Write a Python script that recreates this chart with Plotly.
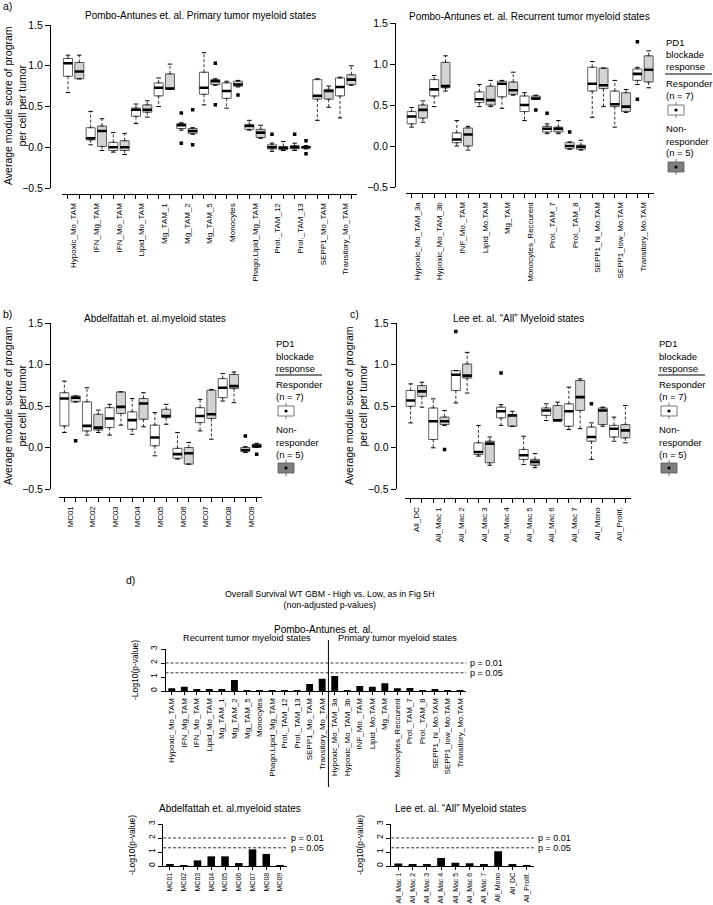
import math
import plotly.graph_objects as go

W, H = 713, 905
FONT = "Liberation Sans, Arial, sans-serif"

# ---------------- panel a (left): Pombo-Antunes primary tumor ----------------
primary_states = ["Hypoxic_Mo_TAM", "IFN_Mg_TAM", "IFN_Mo_TAM", "Lipid_Mo_TAM",
                  "Mg_TAM_1", "Mg_TAM_2", "Mg_TAM_5", "Monocytes",
                  "Phago.Lipid_Mg_TAM", "Prol._TAM_12", "Prol._TAM_13",
                  "SEPP1_Mo_TAM", "Transitory_Mo_TAM"]
# (lower whisker, q1, median, q3, upper whisker)
primary_resp = [(0.67, 0.87, 1.03, 1.09, 1.13), (0.03, 0.09, 0.11, 0.24, 0.44),
                (-0.06, -0.04, 0.00, 0.06, 0.18), (0.29, 0.38, 0.46, 0.48, 0.53),
                (0.50, 0.63, 0.73, 0.79, 0.85), (0.21, 0.23, 0.27, 0.29, 0.30),
                (0.52, 0.65, 0.73, 0.92, 1.16), (0.48, 0.60, 0.69, 0.79, 0.81),
                (0.21, 0.22, 0.26, 0.28, 0.33), (-0.05, -0.02, 0.00, 0.03, 0.05),
                (-0.04, -0.02, 0.00, 0.02, 0.05), (0.33, 0.59, 0.63, 0.83, 0.84),
                (0.36, 0.63, 0.74, 0.85, 0.86)]
primary_nonresp = [(0.84, 0.84, 0.93, 1.04, 1.13), (-0.04, 0.01, 0.20, 0.26, 0.35),
                   (-0.09, -0.04, 0.00, 0.08, 0.17), (0.37, 0.43, 0.46, 0.52, 0.57),
                   (0.71, 0.71, 0.72, 0.90, 1.02), (0.16, 0.17, 0.20, 0.23, 0.24),
                   (0.76, 0.77, 0.81, 0.83, 0.84), (0.74, 0.75, 0.77, 0.81, 0.82),
                   (0.11, 0.12, 0.18, 0.22, 0.27), (-0.04, -0.03, -0.01, 0.01, 0.07),
                   (-0.02, -0.01, 0.00, 0.01, 0.02), (0.49, 0.59, 0.69, 0.71, 0.75),
                   (0.76, 0.77, 0.83, 0.89, 1.00)]
primary_resp_out = [("Mg_TAM_2", 0.42), ("Mg_TAM_2", 0.05),
                    ("Prol._TAM_12", 0.16), ("Prol._TAM_13", 0.16)]
primary_nonresp_out = [("Mg_TAM_2", 0.46), ("Mg_TAM_2", 0.03), ("Mg_TAM_5", 1.03),
                       ("Mg_TAM_5", 0.52), ("Monocytes", 0.64),
                       ("Prol._TAM_13", 0.08), ("Prol._TAM_13", -0.08)]

# ---------------- panel a (right): Pombo-Antunes recurrent tumor ----------------
recurrent_states = ["Hypoxic_Mo_TAM_3a", "Hypoxic_Mo_TAM_3b", "INF_Mo._TAM",
                    "Lipid_Mo.TAM", "Mg_TAM", "Monocytes_Reccurent", "Prol._TAM_7",
                    "Prol._TAM_8", "SEPP1_hi_Mo.TAM", "SEPP1_low_Mo.TAM",
                    "Transitory_Mo.TAM"]
recurrent_resp = [(0.23, 0.27, 0.36, 0.42, 0.47), (0.48, 0.61, 0.69, 0.81, 0.86),
                  (0.00, 0.04, 0.08, 0.16, 0.31), (0.48, 0.53, 0.57, 0.66, 0.75),
                  (0.46, 0.60, 0.76, 0.79, 0.80), (0.31, 0.42, 0.50, 0.61, 0.65),
                  (0.15, 0.17, 0.21, 0.24, 0.27), (-0.04, -0.03, 0.00, 0.04, 0.05),
                  (0.35, 0.67, 0.76, 0.96, 1.03), (0.23, 0.48, 0.51, 0.67, 0.80),
                  (0.75, 0.80, 0.88, 0.94, 0.96)]
recurrent_nonresp = [(0.29, 0.34, 0.44, 0.50, 0.55), (0.67, 0.71, 0.73, 1.02, 1.10),
                     (-0.05, 0.00, 0.14, 0.22, 0.24), (0.48, 0.50, 0.56, 0.73, 0.80),
                     (0.62, 0.63, 0.68, 0.78, 0.90), (0.57, 0.57, 0.58, 0.61, 0.62),
                     (0.15, 0.17, 0.21, 0.23, 0.31), (-0.05, -0.04, -0.01, 0.01, 0.07),
                     (0.48, 0.70, 0.74, 0.95, 0.95), (0.41, 0.42, 0.48, 0.65, 0.69),
                     (0.71, 0.78, 0.93, 1.10, 1.16)]
recurrent_resp_out = [("Prol._TAM_7", 0.40), ("Prol._TAM_8", 0.17),
                      ("Transitory_Mo.TAM", 1.27), ("Transitory_Mo.TAM", 0.57)]
recurrent_nonresp_out = [("Monocytes_Reccurent", 0.44)]

# ---------------- panel b: Abdelfattah ----------------
abdel_states = ["MC01", "MC02", "MC03", "MC04", "MC05", "MC06", "MC07", "MC08", "MC09"]
abdel_resp = [(0.18, 0.26, 0.59, 0.66, 0.80), (0.15, 0.20, 0.26, 0.55, 0.72),
              (0.15, 0.24, 0.35, 0.48, 0.52), (0.16, 0.22, 0.33, 0.43, 0.59),
              (-0.10, 0.02, 0.12, 0.27, 0.42), (-0.14, -0.13, -0.08, -0.01, 0.18),
              (0.20, 0.30, 0.38, 0.48, 0.58), (0.56, 0.60, 0.72, 0.83, 0.89),
              (-0.06, -0.05, -0.03, 0.00, 0.01)]
abdel_nonresp = [(0.55, 0.55, 0.60, 0.62, 0.62), (0.18, 0.21, 0.24, 0.40, 0.45),
                 (0.27, 0.41, 0.49, 0.67, 0.67), (0.25, 0.34, 0.53, 0.59, 0.66),
                 (0.28, 0.36, 0.38, 0.46, 0.52), (-0.20, -0.20, -0.07, 0.00, 0.06),
                 (0.10, 0.35, 0.40, 0.69, 0.70), (0.54, 0.71, 0.74, 0.88, 0.91),
                 (0.00, 0.00, 0.02, 0.04, 0.05)]
abdel_resp_out = [("MC09", 0.14)]
abdel_nonresp_out = [("MC01", 0.08), ("MC09", -0.08)]

# ---------------- panel c: Lee ----------------
lee_states = ["All_DC", "All_Mac 1", "All_Mac 2", "All_Mac 3", "All_Mac 4",
              "All_Mac 5", "All_Mac 6", "All_Mac 7", "All_Mono", "All_Prolif."]
lee_resp = [(0.30, 0.50, 0.57, 0.69, 0.77), (0.00, 0.10, 0.32, 0.48, 0.59),
            (0.54, 0.69, 0.88, 0.93, 0.93), (-0.10, -0.08, -0.05, 0.06, 0.27),
            (0.27, 0.36, 0.44, 0.49, 0.52), (-0.20, -0.14, -0.09, -0.02, 0.14),
            (0.33, 0.39, 0.45, 0.48, 0.53), (0.22, 0.26, 0.44, 0.53, 0.73),
            (-0.14, 0.08, 0.13, 0.25, 0.30), (0.08, 0.13, 0.23, 0.27, 0.37)]
lee_nonresp = [(0.49, 0.62, 0.68, 0.75, 0.79), (0.27, 0.28, 0.32, 0.37, 0.45),
               (0.66, 0.84, 0.87, 1.01, 1.15), (-0.21, -0.18, 0.05, 0.08, 0.13),
               (0.26, 0.26, 0.39, 0.40, 0.44), (-0.24, -0.21, -0.17, -0.14, -0.07),
               (0.33, 0.33, 0.33, 0.51, 0.55), (0.23, 0.45, 0.61, 0.81, 0.83),
               (0.26, 0.28, 0.45, 0.48, 0.49), (0.06, 0.12, 0.21, 0.28, 0.51)]
lee_resp_out = [("All_Mac 2", 1.40), ("All_Mac 4", 0.90), ("All_Mono", 0.53)]
lee_nonresp_out = [("All_Mac 1", -0.02)]

# ---------------- panel d: survival -log10(p) ----------------
pombo_os_labels = primary_states + recurrent_states
pombo_os = [0.19, 0.31, 0.14, 0.14, 0.14, 0.79, 0.07, 0.05, 0.02, 0.07, 0.01, 0.50,
            0.88, 1.07, 0.01, 0.36, 0.31, 0.55, 0.19, 0.21, 0.02, 0.12, 0.03, 0.01]
abdel_os = [0.12, 0.07, 0.40, 0.69, 0.69, 0.21, 1.19, 0.86, 0.07]
lee_os_labels = ["All_Mac 1", "All_Mac 2", "All_Mac 3", "All_Mac 4", "All_Mac 5",
                 "All_Mac 6", "All_Mac 7", "All_Mono", "All_DC", "All_Prolif."]
lee_os = [0.17, 0.10, 0.12, 0.57, 0.24, 0.19, 0.14, 1.05, 0.12, 0.05]
p_cutoffs = [0.01, 0.05]

fig = go.Figure()


def xd(a, b):
    return [a / W, b / W]


def yd(top, bottom):
    return [1 - bottom / H, 1 - top / H]


def names(k):
    s = "" if k == 1 else str(k)
    return "x" + s, "y" + s, "xaxis" + s, "yaxis" + s


def note(text, x, y, size=10, xanchor="center", **kw):
    fig.add_annotation(text=text, x=x / W, y=1 - y / H, xref="paper", yref="paper",
                       showarrow=False, xanchor=xanchor, yanchor="middle",
                       font=dict(size=size, color="black", family=FONT), **kw)


def box_panel(k, states, resp, nonresp, resp_out, nonresp_out, xdom, ydom, xline, yline):
    xa, ya, xn, yn = names(k)
    groups = [(resp, resp_out, 1, "white"), (nonresp, nonresp_out, 2, "#d3d3d3")]
    for stats, outs, off, fill in groups:
        pos = [2 * i + off for i in range(len(states))]
        lo, q1, med, q3, hi = (list(v) for v in zip(*stats))
        wx, wy, cx, cy, mx, my = [], [], [], [], [], []
        for p, a, b, m, c, d in zip(pos, lo, q1, med, q3, hi):
            wx += [p, p, None, p, p, None]
            wy += [c, d, None, b, a, None]
            cx += [p - 0.2, p + 0.2, None, p - 0.2, p + 0.2, None]
            cy += [d, d, None, a, a, None]
            mx += [p - 0.4, p + 0.4, None]
            my += [m, m, None]
        fig.add_trace(go.Scatter(x=wx, y=wy, mode="lines", xaxis=xa, yaxis=ya,
                                 line=dict(color="black", width=0.8, dash="3px,2px")))
        fig.add_trace(go.Scatter(x=cx, y=cy, mode="lines", xaxis=xa, yaxis=ya,
                                 line=dict(color="black", width=1)))
        fig.add_trace(go.Box(x=pos, q1=q1, median=med, q3=q3, lowerfence=q1,
                             upperfence=q3, width=0.8, orientation="v",
                             fillcolor=fill, line=dict(color="#3c3c3c", width=0.8),
                             xaxis=xa, yaxis=ya))
        fig.add_trace(go.Scatter(x=mx, y=my, mode="lines", xaxis=xa, yaxis=ya,
                                 line=dict(color="black", width=2.6)))
        fig.add_trace(go.Scatter(x=[2 * states.index(s) + off for s, v in outs],
                                 y=[v for s, v in outs], mode="markers",
                                 xaxis=xa, yaxis=ya,
                                 marker=dict(symbol="square", size=3.5, color="black")))
    n = 2 * len(states)
    fig.update_layout({
        xn: dict(domain=xdom, range=[0.5, n + 0.5], anchor="free",
                 position=1 - xline / H, showline=True, linecolor="black",
                 linewidth=1, tickmode="array",
                 tickvals=[2 * i + 1.5 for i in range(len(states))],
                 ticktext=states, tickangle=-90, ticks="outside", ticklen=5,
                 tickcolor="rgba(0,0,0,0)",
                 minor=dict(tickmode="array", tickvals=list(range(1, n + 1)),
                            ticks="outside", ticklen=4, tickcolor="black",
                            showgrid=False),
                 showgrid=False, zeroline=False, tickfont=dict(size=8)),
        yn: dict(domain=ydom, range=[-0.5, 1.5], anchor="free",
                 position=yline / W, showline=True, linecolor="black", linewidth=1,
                 tickmode="array", tickvals=[-0.5, 0, 0.5, 1.0, 1.5],
                 tickformat=".1f", ticks="outside", ticklen=5, tickcolor="black",
                 showgrid=False, zeroline=False, tickfont=dict(size=10.5)),
    })


def bar_panel(k, labels, values, xdom, ydom, label_size):
    xa, ya, xn, yn = names(k)
    fig.add_trace(go.Bar(x=list(range(1, len(labels) + 1)), y=values, width=0.55,
                         marker=dict(color="black", line=dict(width=0)),
                         xaxis=xa, yaxis=ya))
    fig.update_layout({
        xn: dict(domain=xdom, range=[0.5, len(labels) + 0.5], anchor=ya,
                 showline=True, linecolor="black", linewidth=1, tickmode="array",
                 tickvals=list(range(1, len(labels) + 1)), ticktext=labels,
                 tickangle=-90, ticks="outside", ticklen=3, tickcolor="black",
                 showgrid=False, zeroline=False, tickfont=dict(size=label_size)),
        yn: dict(domain=ydom, range=[0, 3], anchor=xa, showline=True,
                 linecolor="black", linewidth=1, tickvals=[0, 1, 2, 3],
                 tickangle=-90, ticks="outside", ticklen=4, tickcolor="black",
                 showgrid=False, zeroline=False, tickfont=dict(size=8.5),
                 title=dict(text="-Log10(p-value)", font=dict(size=8.5), standoff=9)),
    })
    for p in p_cutoffs:
        lvl = -math.log10(p)
        fig.add_shape(type="line", xref=xa + " domain", x0=0, x1=1, yref=ya,
                      y0=lvl, y1=lvl, line=dict(color="black", width=0.8,
                                                dash="3px,2px"))
        fig.add_annotation(text=f"p = {p}", xref=xa + " domain", x=1, yref=ya,
                           y=lvl, xanchor="left", yanchor="middle", xshift=3,
                           showarrow=False, borderpad=0,
                           font=dict(size=9, color="black"))


def legend(x0, ytop):
    lines = [("PD1", 0), ("blockade", 13), ("response", 25), ("Responder", 41),
             ("(n = 7)", 54), ("Non-", 86), ("responder", 99), ("(n = 5)", 111)]
    for text, dy in lines:
        note(text, x0, ytop + dy, size=9.5, xanchor="left", borderpad=0)
    fig.add_shape(type="line", xref="paper", yref="paper", x0=x0 / W,
                  x1=(x0 + 47) / W, y0=1 - (ytop + 32) / H, y1=1 - (ytop + 32) / H,
                  line=dict(color="black", width=1))
    for dy, fill in ((68, "white"), (125, "#7f7f7f")):
        cx, cy = x0 + 11, ytop + dy
        for a, b in ((cy - 8, cy - 5), (cy + 5, cy + 8)):
            fig.add_shape(type="line", xref="paper", yref="paper", x0=cx / W,
                          x1=cx / W, y0=1 - a / H, y1=1 - b / H,
                          line=dict(color="#555555", width=0.8))
        fig.add_shape(type="rect", xref="paper", yref="paper", x0=(cx - 8) / W,
                      x1=(cx + 8) / W, y0=1 - (cy + 5) / H, y1=1 - (cy - 5) / H,
                      fillcolor=fill, line=dict(color="#555555", width=0.8))
        fig.add_shape(type="circle", xref="paper", yref="paper", x0=(cx - 1.6) / W,
                      x1=(cx + 1.6) / W, y0=1 - (cy + 1.6) / H, y1=1 - (cy - 1.6) / H,
                      fillcolor="black", line=dict(color="black", width=0))


box_panel(1, primary_states, primary_resp, primary_nonresp, primary_resp_out,
          primary_nonresp_out, xd(62.3, 357), yd(25, 188), 194, 50)
box_panel(2, recurrent_states, recurrent_resp, recurrent_nonresp, recurrent_resp_out,
          recurrent_nonresp_out, xd(406, 654.3), yd(23, 187), 193, 395)
box_panel(3, abdel_states, abdel_resp, abdel_nonresp, abdel_resp_out,
          abdel_nonresp_out, xd(58.7, 262.3), yd(323, 489), 497, 50)
box_panel(4, lee_states, lee_resp, lee_nonresp, lee_resp_out, lee_nonresp_out,
          xd(405, 631), yd(323.3, 489.3), 498, 395.7)

bar_panel(5, pombo_os_labels, pombo_os, xd(165.5, 466.3), yd(649, 691), 8)
bar_panel(6, abdel_states, abdel_os, xd(163.1, 286.9), yd(824, 866), 7)
bar_panel(7, lee_os_labels, lee_os, xd(391.2, 533.8), yd(824, 866), 7)

# divider between the two Pombo-Antunes groups in panel d
fig.add_shape(type="line", xref="x5", yref="paper", x0=len(primary_states) + 0.5,
              x1=len(primary_states) + 0.5, y0=1 - 787 / H, y1=1 - 640 / H,
              line=dict(color="black", width=1))
fig.add_annotation(text="Recurrent tumor myeloid states", xref="x5", yref="paper",
                   x=(1 + len(primary_states)) / 2, y=1 - 645 / H, showarrow=False,
                   font=dict(size=9.2, color="black"))
fig.add_annotation(text="Primary tumor myeloid states", xref="x5", yref="paper",
                   x=len(primary_states) + (1 + len(recurrent_states)) / 2,
                   y=1 - 645 / H, showarrow=False, font=dict(size=9.2, color="black"))

# titles and labels
note("a)", 1, 6, size=10.5, xanchor="left")
note("b)", 1, 314, size=10.5, xanchor="left")
note("c)", 348, 314, size=10.5, xanchor="left")
note("d)", 124, 580, size=10.5, xanchor="left")
note("Pombo-Antunes et. al. Primary tumor myeloid states", 200, 16)
note("Pombo-Antunes et. al. Recurrent tumor myeloid states", 529, 17)
note("Abdelfattah et. al.myeloid states", 155, 319)
note("Lee et. al. “All” Myeloid states", 518, 319)
note("Overall Survival WT GBM - High vs. Low, as in Fig 5H<br>(non-adjusted p-values)",
     330, 599, size=8.8)
note("Pombo-Antunes et. al.", 323, 629)
note("Abdelfattah et. al.myeloid states", 230, 808)
note("Lee et. al. “All” Myeloid states", 460, 808)

ytitle = "Average module score of program<br>per cell per tumor"
note(ytitle, 15, 106, size=10.5, textangle=-90)
note(ytitle, 15, 406, size=10.5, textangle=-90)
note(ytitle, 356, 406, size=10.5, textangle=-90)

legend(665, 42)
legend(275, 343)
legend(658, 343)

fig.update_layout(width=W, height=H, margin=dict(l=0, r=0, t=0, b=0),
                  template="none", plot_bgcolor="white", paper_bgcolor="white",
                  showlegend=False, hovermode=False, boxmode="overlay",
                  font=dict(family=FONT, color="black", size=10))

# the page body has a default 8px margin; drop it so the figure fills the window
fig.write_html("out.html", config={"displayModeBar": False},
               post_script="document.body.style.margin = '0';")
